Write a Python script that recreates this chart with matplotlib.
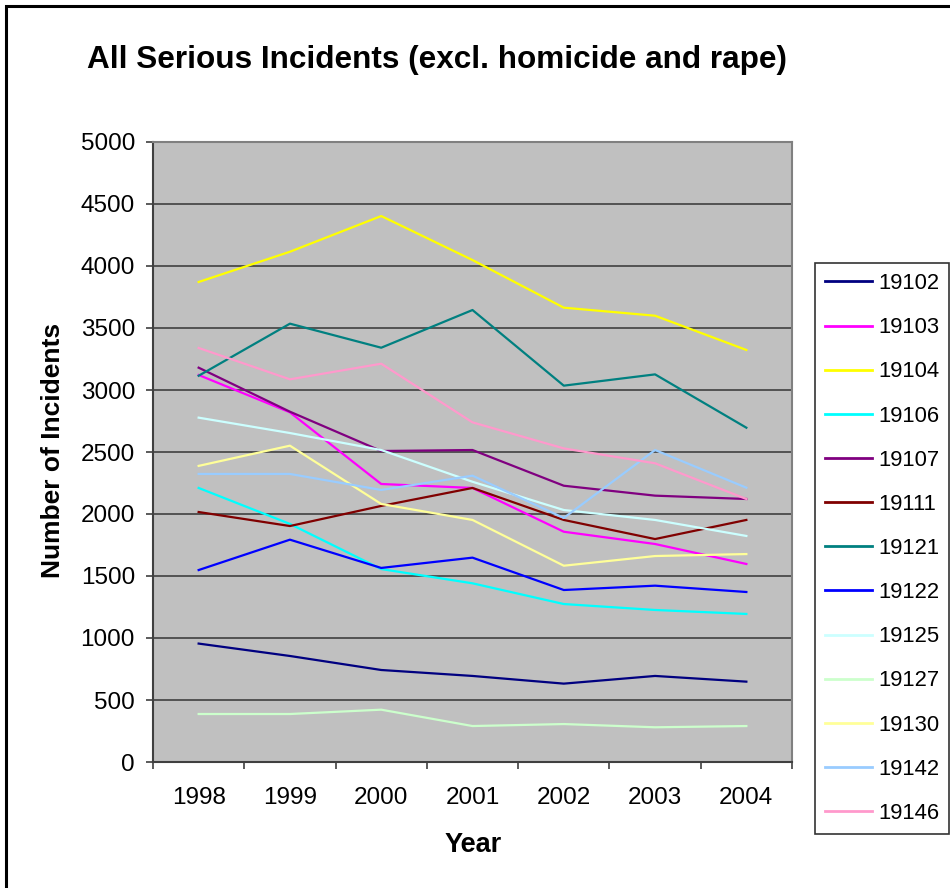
import matplotlib
matplotlib.use("Agg")
import matplotlib.pyplot as plt
from matplotlib.patches import Rectangle
import numpy as np

plt.rcParams['font.family'] = ['Liberation Sans', 'DejaVu Sans']

years = ['1998', '1999', '2000', '2001', '2002', '2003', '2004']

zip_codes = ['19102', '19103', '19104', '19106', '19107', '19111', '19121',
             '19122', '19125', '19127', '19130', '19142', '19146']

z19102 = [955, 855, 742, 694, 632, 694, 648]
z19103 = [3121, 2820, 2242, 2210, 1857, 1758, 1597]
z19104 = [3871, 4115, 4403, 4048, 3664, 3599, 3323]
z19106 = [2210, 1920, 1556, 1441, 1274, 1226, 1194]
z19107 = [3180, 2825, 2508, 2516, 2228, 2148, 2121]
z19111 = [2016, 1903, 2065, 2210, 1952, 1798, 1952]
z19121 = [3115, 3535, 3341, 3645, 3035, 3126, 2696]
z19122 = [1548, 1793, 1565, 1648, 1387, 1422, 1371]
z19125 = [2777, 2653, 2516, 2260, 2032, 1952, 1823]
z19127 = [387, 387, 422, 290, 306, 280, 290]
z19130 = [2388, 2551, 2081, 1952, 1583, 1661, 1677]
z19142 = [2323, 2323, 2194, 2309, 1968, 2516, 2212]
z19146 = [3339, 3086, 3212, 2739, 2529, 2409, 2121]

series = [z19102, z19103, z19104, z19106, z19107, z19111, z19121,
          z19122, z19125, z19127, z19130, z19142, z19146]

colors = ['#000080', '#FF00FF', '#FFFF00', '#00FFFF', '#800080', '#800000',
          '#008080', '#0000FF', '#CCFFFF', '#CCFFCC', '#FFFF99', '#99CCFF',
          '#FF99CC']

W, H = 950, 888
fig = plt.figure(figsize=(W / 100, H / 100), dpi=100)

# outer chart frame
fig.patches.append(Rectangle((6 / W, -0.1), 1.2, 1 - 6 / H + 0.1,
                             transform=fig.transFigure, fill=False,
                             edgecolor='black', linewidth=2.2, zorder=0))

ax = fig.add_axes([153 / W, 1 - 762 / H, 639 / W, 620 / H])
ax.set_facecolor('#C0C0C0')

x = np.arange(len(years))
for vals, col, name in zip(series, colors, zip_codes):
    ax.plot(x, vals, color=col, linewidth=1.6, label=name, zorder=3)

ax.set_xlim(-0.5, len(years) - 0.5)
ax.set_ylim(0, 5000)

yt = np.arange(0, 5001, 500)
ax.set_yticks(yt)
ax.set_yticklabels([str(v) for v in yt])
for v in yt[1:-1]:
    ax.axhline(v, color='#4A4A4A', linewidth=1.3, zorder=1)

ax.set_xticks(np.arange(-0.5, len(years), 1.0))
ax.set_xticklabels([])
ax.set_xticks(x, minor=True)
ax.set_xticklabels(years, minor=True)

ax.tick_params(axis='y', direction='out', length=5, width=1.2,
               color='#404040', labelsize=17.5, pad=8)
ax.tick_params(axis='x', which='major', direction='out', length=5,
               width=1.2, color='#404040')
ax.tick_params(axis='x', which='minor', length=0, labelsize=17.5, pad=18)

for side in ['top', 'right']:
    ax.spines[side].set_color('#808080')
    ax.spines[side].set_linewidth(1.5)
for side in ['left', 'bottom']:
    ax.spines[side].set_color('#404040')
    ax.spines[side].set_linewidth(1.5)

fig.text(437 / W, 1 - 60 / H, 'All Serious Incidents (excl. homicide and rape)',
         ha='center', va='center', fontsize=22.7, fontweight='bold')
fig.text(473 / W, 1 - 845 / H, 'Year', ha='center', va='center',
         fontsize=19.5, fontweight='bold')
fig.text(53 / W, 1 - 450 / H, 'Number of Incidents', ha='center',
         va='center', rotation=90, fontsize=19, fontweight='bold')

# legend box runs off the right edge of the chart
leg = fig.legend(loc='upper left', bbox_to_anchor=(815 / W, 1 - 263 / H),
                 bbox_transform=fig.transFigure, borderaxespad=0,
                 frameon=True, fancybox=False, fontsize=15.8,
                 handlelength=2.14, handletextpad=0.27, labelspacing=1.055,
                 borderpad=0.46)
leg.get_frame().set_edgecolor('black')
leg.get_frame().set_linewidth(1.2)
for ln in leg.get_lines():
    ln.set_linewidth(2)

fig.savefig('out.png', dpi=100, facecolor='white')
